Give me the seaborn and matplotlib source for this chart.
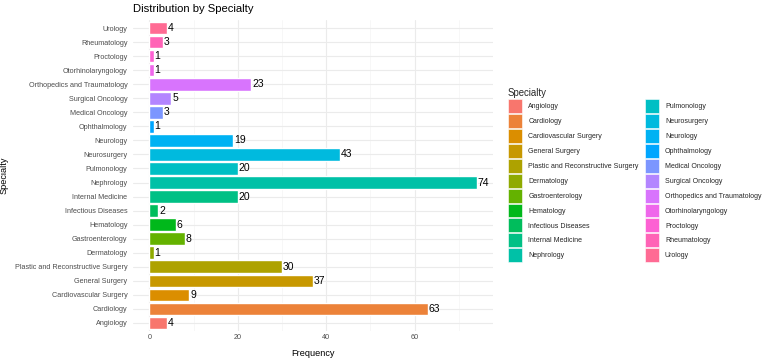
import numpy as np
import pandas as pd
import matplotlib
matplotlib.use("Agg")
import matplotlib.pyplot as plt
from matplotlib.patches import Patch
import seaborn as sns

sns.set_theme(style="white")
plt.rcParams['font.family'] = ['Liberation Sans', 'DejaVu Sans']

# factor order (bottom to top in the chart, legend order)
specialties = [
    "Angiology", "Cardiology", "Cardiovascular Surgery", "General Surgery",
    "Plastic and Reconstructive Surgery", "Dermatology", "Gastroenterology",
    "Hematology", "Infectious Diseases", "Internal Medicine", "Nephrology",
    "Pulmonology", "Neurosurgery", "Neurology", "Ophthalmology",
    "Medical Oncology", "Surgical Oncology", "Orthopedics and Traumatology",
    "Otorhinolaryngology", "Proctology", "Rheumatology", "Urology",
]
counts = [4, 63, 9, 37, 30, 1, 8, 6, 2, 20, 74, 20, 43, 19, 1, 3, 5, 23, 1, 1, 3, 4]


def hcl_to_hex(h, c=100, l=65):
    # polar LUV -> sRGB, same as R's hcl()
    xn, yn, zn = 95.047, 100.0, 108.883
    un = 4 * xn / (xn + 15 * yn + 3 * zn)
    vn = 9 * yn / (xn + 15 * yn + 3 * zn)
    y = yn * ((l + 16) / 116) ** 3
    u = c * np.cos(np.radians(h)) / (13 * l) + un
    v = c * np.sin(np.radians(h)) / (13 * l) + vn
    x = y * 9 * u / (4 * v)
    z = y * (12 - 3 * u - 20 * v) / (4 * v)
    xyz = np.array([x, y, z]) / 100
    m = np.array([[3.2404542, -1.5371385, -0.4985314],
                  [-0.9692660, 1.8760108, 0.0415560],
                  [0.0556434, -0.2040259, 1.0572252]])
    rgb = m @ xyz
    rgb = np.where(rgb <= 0.0031308, 12.92 * rgb, 1.055 * np.clip(rgb, 0, None) ** (1 / 2.4) - 0.055)
    rgb = np.clip(rgb, 0, 1)
    return matplotlib.colors.to_hex(rgb)


n = len(specialties)
hues = np.linspace(15, 375, n + 1)[:n]
colors = [hcl_to_hex(h) for h in hues]
palette = dict(zip(specialties, colors))

df = pd.DataFrame({"Specialty": specialties, "Frequency": counts})

fig = plt.figure(figsize=(7.67, 3.58), dpi=100)
ax = fig.add_axes([133 / 767, 26.6 / 358, 360 / 767, 311.8 / 358])

sns.barplot(data=df, y="Specialty", x="Frequency", hue="Specialty",
            order=specialties[::-1], palette=palette, width=0.9,
            orient="h", legend=False, ax=ax, saturation=1)

for i, (s, v) in enumerate(zip(specialties[::-1], counts[::-1])):
    ax.text(v + 0.2, i, str(v), va="center", ha="left", fontsize=7.5, color="black")

ax.set_xlim(-3.7, 77.7)
ax.set_ylim(n - 0.4, -0.6)
ax.set_xticks([0, 20, 40, 60])
ax.set_xticks([10, 30, 50, 70], minor=True)
ax.grid(True, which="major", color="#EBEBEB", linewidth=0.8)
ax.grid(True, which="minor", axis="x", color="#F4F4F4", linewidth=0.5)
ax.set_axisbelow(True)
for sp in ax.spines.values():
    sp.set_visible(False)
ax.tick_params(axis="both", length=0, labelsize=5.2, labelcolor="#4D4D4D")
ax.tick_params(axis="y", pad=4)
ax.tick_params(axis="x", pad=2)

ax.set_xlabel("Frequency", fontsize=6.6, color="black")
ax.set_ylabel("Specialty", fontsize=6.6, color="black")
ax.xaxis.set_label_coords(0.5, -0.055)
ax.yaxis.set_label_coords(-0.345, 0.5)

fig.text(133 / 767, 1 - 9 / 358, "Distribution by Specialty", fontsize=8.1,
         ha="left", va="center", color="black")

handles = [Patch(facecolor=palette[s], edgecolor="white", linewidth=0.4, label=s)
           for s in specialties]
leg = fig.legend(handles=handles, ncol=2, title="Specialty", frameon=False,
                 loc="upper left", bbox_to_anchor=(508 / 767, 1 - 88 / 358),
                 fontsize=5, title_fontsize=6.9, handlelength=2.0, handleheight=2.7,
                 labelspacing=0.15, columnspacing=0.9, handletextpad=0.9,
                 borderaxespad=0, borderpad=0)
leg._legend_box.align = "left"

fig.savefig("out.png", dpi=100)
